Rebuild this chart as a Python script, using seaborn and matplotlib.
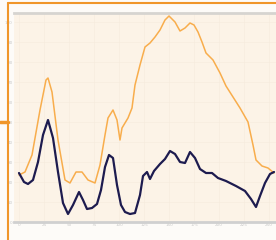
import seaborn as sns
import matplotlib.pyplot as plt
import pandas as pd
from matplotlib.lines import Line2D

# upper series (orange)
orange_x = [0, 6, 13, 21, 27, 29, 33, 39, 46, 51, 57, 63, 69, 76, 81, 86, 89, 94, 98, 101,
            103, 109, 113, 116, 121, 126, 131, 136, 141, 146, 150, 156, 161, 166, 171, 175,
            179, 183, 187, 194, 201, 207, 214, 221, 229, 234, 237, 243, 249, 255]
orange_y = [23.5, 25, 33.5, 56, 71, 72, 65, 41, 21, 19.5, 25, 25, 21, 19.5, 28.5, 43.5, 52, 56, 51, 41,
            47, 52, 57, 68.5, 78.5, 87.5, 89.5, 92.5, 96, 101, 103, 100, 95.5, 97, 99.5, 98.5,
            95, 90, 84.5, 81, 74.5, 68, 62.5, 57, 50, 38.5, 31, 28, 27, 24.5]

# lower series (navy)
navy_x = [0, 5, 9, 14, 19, 24, 29, 34, 39, 44, 49, 54, 60, 64, 68, 73, 78, 82, 86, 90, 94, 98,
          102, 106, 111, 116, 121, 124, 128, 131, 135, 141, 146, 151, 156, 161, 166, 171, 176,
          181, 187, 193, 199, 207, 217, 226, 232, 237, 241, 246, 251, 255]
navy_y = [24.5, 20, 19, 21, 30, 43.5, 51, 42, 25, 9.5, 4, 8.5, 15, 11, 6.5, 7, 9, 16, 27.5, 33.5, 32, 18.5,
          8.5, 5, 4, 4.5, 13.5, 23, 25, 21.5, 25.5, 29, 31.5, 35.5, 34, 30, 29.5, 35, 32,
          26.5, 24.5, 24.5, 22, 20.5, 18, 15.5, 11.5, 7.5, 13, 19.5, 24, 25]

x_ticks = [0, 25, 50, 75, 100, 125, 150, 175, 200, 225, 250]
y_ticks = [0, 10, 20, 30, 40, 50, 60, 70, 80, 90, 100]

sns.set_theme(style="white")
fig = plt.figure(figsize=(2.76, 2.4), dpi=100)
fig.patch.set_facecolor("#fdfbf8")
ax = fig.add_axes([14 / 276, 18 / 240, 262 / 276, 209 / 240])
ax.set_facecolor("#fcf3e7")

df_o = pd.DataFrame({"x": orange_x, "y": orange_y})
df_n = pd.DataFrame({"x": navy_x, "y": navy_y})
sns.lineplot(data=df_o, x="x", y="y", ax=ax, color="#f8ad4c", linewidth=1.1)
sns.lineplot(data=df_n, x="x", y="y", ax=ax, color="#1d1b4f", linewidth=1.6)

ax.set_xlim(-5, 257)
ax.set_ylim(0, 104.5)
ax.set_xticks(x_ticks)
ax.set_yticks(y_ticks)
ax.set_xticklabels([str(t) for t in x_ticks], fontsize=3, color="#c8c8c8")
ax.set_yticklabels([str(t) for t in y_ticks], fontsize=3, color="#c8c8c8")
ax.tick_params(length=0, pad=1)
ax.grid(True, color="#f6ebdd", linewidth=0.4)
ax.set_xlabel("")
ax.set_ylabel("")
for side in ["left", "right"]:
    ax.spines[side].set_visible(False)
ax.spines["top"].set_color("#d6d4d0")
ax.spines["top"].set_linewidth(2)
ax.spines["bottom"].set_color("#d0d0d0")
ax.spines["bottom"].set_linewidth(2)

# orange frame
frame = "#f0962a"
fig.add_artist(Line2D([8 / 276, 1], [1 - 3 / 240, 1 - 3 / 240], color=frame, linewidth=1.5, transform=fig.transFigure))
fig.add_artist(Line2D([8 / 276, 8 / 276], [0, 1 - 3 / 240], color=frame, linewidth=1.5, transform=fig.transFigure))
fig.add_artist(Line2D([0, 8 / 276], [1 - 122 / 240, 1 - 122 / 240], color=frame, linewidth=2.5, transform=fig.transFigure))

fig.savefig("out.png", dpi=100)
